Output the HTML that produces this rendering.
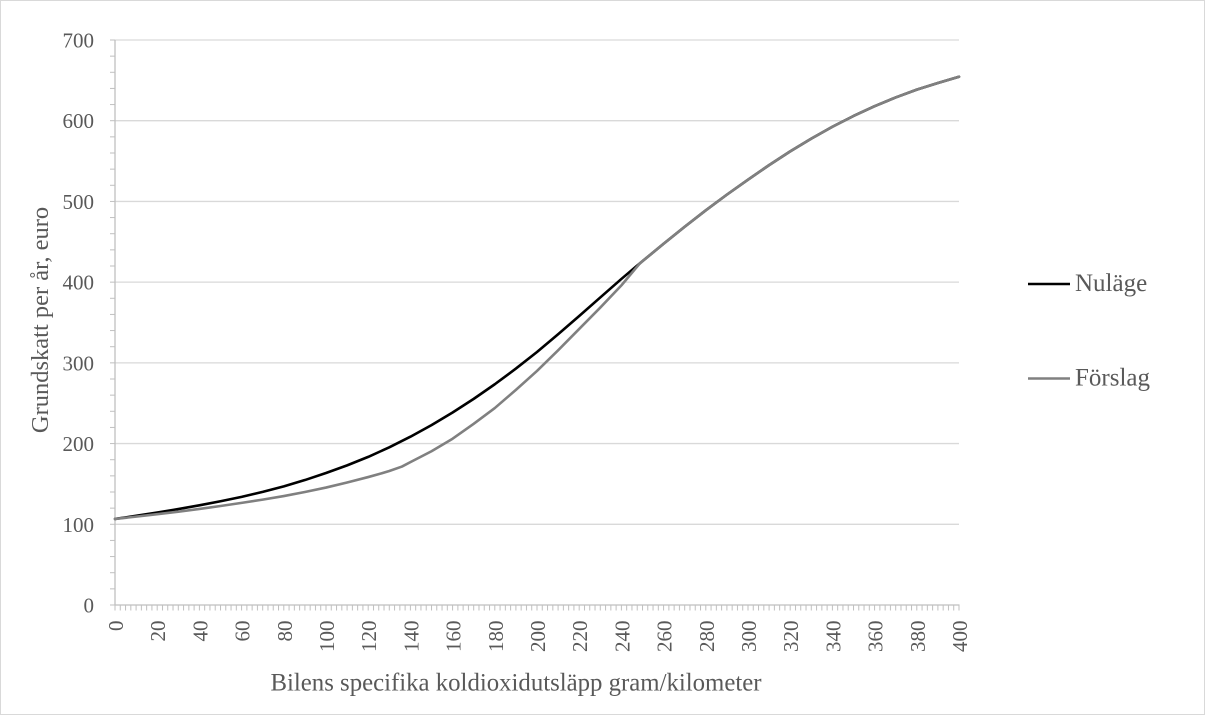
<!DOCTYPE html>
<html>
<head>
<meta charset="utf-8">
<style>
  html,body{margin:0;padding:0;background:#fff;}
  svg{display:block;}
  text{font-family:"Liberation Serif","Times New Roman",serif;fill:#595959;}
</style>
</head>
<body>
<svg width="1205" height="715" viewBox="0 0 1205 715" xmlns="http://www.w3.org/2000/svg">
  <defs>
    <pattern id="xt" patternUnits="userSpaceOnUse" x="114.5" y="605" width="5.275" height="6">
      <rect x="0" y="0" width="1" height="6" fill="#bfbfbf"/>
    </pattern>
    <pattern id="yt" patternUnits="userSpaceOnUse" x="109" y="39.5" width="7" height="16.143">
      <rect x="0" y="0" width="7" height="1" fill="#bfbfbf"/>
    </pattern>
  </defs>
  <rect x="0.5" y="0.5" width="1204" height="714" fill="#fff" stroke="#d9d9d9" stroke-width="1"/>

  <!-- gridlines -->
  <g stroke="#d9d9d9" stroke-width="1.3">
    <line x1="115" y1="40" x2="959" y2="40"/>
    <line x1="115" y1="120.71" x2="959" y2="120.71"/>
    <line x1="115" y1="201.43" x2="959" y2="201.43"/>
    <line x1="115" y1="282.14" x2="959" y2="282.14"/>
    <line x1="115" y1="362.86" x2="959" y2="362.86"/>
    <line x1="115" y1="443.57" x2="959" y2="443.57"/>
    <line x1="115" y1="524.29" x2="959" y2="524.29"/>
  </g>

  <!-- ticks -->
  <rect x="110" y="39.5" width="5" height="566" fill="url(#yt)"/>
  <rect x="114.5" y="605" width="846" height="5.5" fill="url(#xt)"/>

  <!-- axes -->
  <line x1="115" y1="40" x2="115" y2="605.5" stroke="#bfbfbf" stroke-width="1.3"/>
  <line x1="114.5" y1="605" x2="959.5" y2="605" stroke="#bfbfbf" stroke-width="1.3"/>

  <!-- y tick labels -->
  <g font-size="21" text-anchor="end">
    <text x="94" y="47.5">700</text>
    <text x="94" y="128.2">600</text>
    <text x="94" y="208.9">500</text>
    <text x="94" y="289.6">400</text>
    <text x="94" y="370.4">300</text>
    <text x="94" y="451.1">200</text>
    <text x="94" y="531.8">100</text>
    <text x="94" y="612.5">0</text>
  </g>

  <!-- x tick labels -->
  <g font-size="21" text-anchor="end">
    <text transform="translate(123,620.5) rotate(-90)">0</text>
    <text transform="translate(165.2,620.5) rotate(-90)">20</text>
    <text transform="translate(207.4,620.5) rotate(-90)">40</text>
    <text transform="translate(249.6,620.5) rotate(-90)">60</text>
    <text transform="translate(291.8,620.5) rotate(-90)">80</text>
    <text transform="translate(334,620.5) rotate(-90)">100</text>
    <text transform="translate(376.2,620.5) rotate(-90)">120</text>
    <text transform="translate(418.4,620.5) rotate(-90)">140</text>
    <text transform="translate(460.6,620.5) rotate(-90)">160</text>
    <text transform="translate(502.8,620.5) rotate(-90)">180</text>
    <text transform="translate(545,620.5) rotate(-90)">200</text>
    <text transform="translate(587.2,620.5) rotate(-90)">220</text>
    <text transform="translate(629.4,620.5) rotate(-90)">240</text>
    <text transform="translate(671.6,620.5) rotate(-90)">260</text>
    <text transform="translate(713.8,620.5) rotate(-90)">280</text>
    <text transform="translate(756,620.5) rotate(-90)">300</text>
    <text transform="translate(798.2,620.5) rotate(-90)">320</text>
    <text transform="translate(840.4,620.5) rotate(-90)">340</text>
    <text transform="translate(882.6,620.5) rotate(-90)">360</text>
    <text transform="translate(924.8,620.5) rotate(-90)">380</text>
    <text transform="translate(967,620.5) rotate(-90)">400</text>
  </g>

  <!-- axis titles -->
  <text x="516" y="690.5" font-size="24.8" text-anchor="middle">Bilens specifika koldioxidutsläpp gram/kilometer</text>
  <text transform="translate(48,320) rotate(-90)" font-size="24.5" text-anchor="middle">Grundskatt per år, euro</text>

  <!-- series -->
  <g transform="matrix(2.11 0 0 -0.80714 115 605)" fill="none" stroke-linejoin="round" stroke-linecap="round">
    <polyline vector-effect="non-scaling-stroke" stroke="#000" stroke-width="2.6"
      points="0,106.6 10,110.48 20,114.5 30,118.84 40,123.5 50,128.5 60,134 70,140.13 80,147 90,154.81 100,163.5 110,172.97 120,183.5 130,195.38 140,208.5 150,222.88 160,238.5 170,255.38 180,273.5 190,292.91 200,313.5 210,335.38 220,358 230,381.06 240,404 250,426.03 260,447.5 270,468.59 280,489 290,508.41 300,527 310,544.97 320,562 330,577.84 340,592.5 350,605.88 360,618 370,628.84 380,638.5 390,646.78 400,654.5"/>
    <polyline vector-effect="non-scaling-stroke" stroke="#808080" stroke-width="2.6"
      points="0,106.6 10,109.51 20,112.5 30,115.65 40,119 50,122.63 60,126.5 70,130.56 80,135 90,139.97 100,145.5 110,151.72 120,158.5 125,162.1 130,166 136,171.5 140,177 150,190.5 160,206 170,224.5 180,244 190,266.5 200,290 210,315.5 220,342 230,368.5 240,396 248.5,422.5 250,426.03 260,447.5 270,468.59 280,489 290,508.41 300,527 310,544.97 320,562 330,577.84 340,592.5 350,605.88 360,618 370,628.84 380,638.5 390,646.78 400,654.5"/>
  </g>

  <!-- legend -->
  <line x1="1028" y1="284" x2="1070" y2="284" stroke="#000" stroke-width="2.6"/>
  <text x="1075" y="291" font-size="25">Nuläge</text>
  <line x1="1028" y1="378.5" x2="1070" y2="378.5" stroke="#808080" stroke-width="2.6"/>
  <text x="1075" y="385.5" font-size="25">Förslag</text>
</svg>
</body>
</html>
